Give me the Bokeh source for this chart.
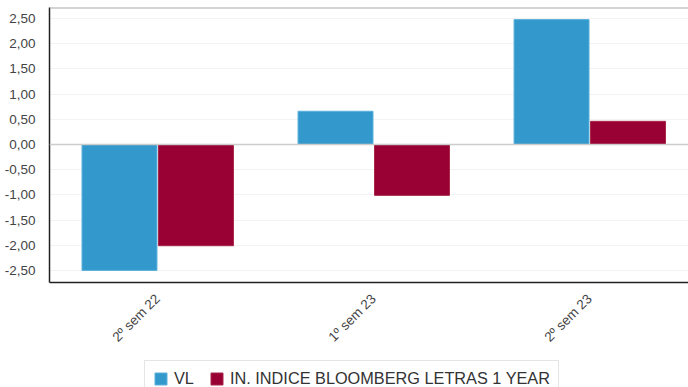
from bokeh.plotting import figure
from bokeh.layouts import column
from bokeh.models import (ColumnDataSource, Range1d, FixedTicker, CustomJSTickFormatter,
                          Span, Legend, LegendItem)
from bokeh.transform import dodge
from bokeh.embed import file_html
from bokeh.resources import INLINE

categories = ["2º sem 22", "1º sem 23", "2º sem 23"]
vl = [-2.50, 0.66, 2.48]
indice = [-2.01, -1.01, 0.46]
series_names = ["VL", "IN. INDICE BLOOMBERG LETRAS 1 YEAR"]
y_ticks = [-2.5, -2.0, -1.5, -1.0, -0.5, 0.0, 0.5, 1.0, 1.5, 2.0, 2.5]

BLUE = "#3399cc"
RED = "#990033"
FONT = "Liberation Sans"

pos = [i + 0.5 for i in range(len(categories))]
src = ColumnDataSource(dict(x=pos, vl=vl, ind=indice, cat=categories))

Y_MIN, Y_MAX = -2.74, 2.72
p = figure(frame_width=639, frame_height=275, output_backend="svg", toolbar_location=None,
           x_range=Range1d(0, 2.958), y_range=Range1d(Y_MIN, Y_MAX),
           min_border_left=49, min_border_top=7, min_border_right=0, min_border_bottom=76)
p.outline_line_color = None
p.background_fill_color = "white"

bar_style = dict(width=0.347, bottom=0, line_width=1)
blue_style = dict(fill_color=BLUE, line_color="#5ab0dc")
red_style = dict(fill_color=RED, line_color="#a8264a")
p.vbar(x=dodge("x", -0.176), top="vl", source=src, **blue_style, **bar_style)
p.vbar(x=dodge("x", 0.178), top="ind", source=src, **red_style, **bar_style)

p.add_layout(Span(location=0, dimension="width", line_color="#cccccc", line_width=1.5))
p.add_layout(Span(location=Y_MAX, dimension="width", line_color="#aaaaaa", line_width=2))

p.xgrid.visible = False
p.ygrid.ticker = FixedTicker(ticks=y_ticks)
p.ygrid.grid_line_color = "#f3f3f3"

p.yaxis.ticker = FixedTicker(ticks=y_ticks)
p.yaxis.formatter = CustomJSTickFormatter(code="return tick.toFixed(2).replace('.', ',');")
p.xaxis.ticker = FixedTicker(ticks=pos)
p.xaxis.major_label_overrides = {x: c for x, c in zip(pos, categories)}
p.xaxis.major_label_orientation = 0.785398

for ax in (p.xaxis[0], p.yaxis[0]):
    ax.axis_line_color = "#222222"
    ax.axis_line_width = 1.5
    ax.major_tick_line_color = None
    ax.minor_tick_line_color = None
    ax.major_label_text_font = FONT
    ax.major_label_text_font_size = "13.5px"
    ax.major_label_text_color = "#444444"
p.yaxis.major_label_standoff = 8
p.xaxis.major_label_standoff = 8

# legend strip below the chart (its bars lie outside its view, only the legend shows)
lg = figure(width=688, height=29, output_backend="svg", toolbar_location=None,
            x_range=Range1d(0, 1), y_range=Range1d(100, 101),
            min_border_left=0, min_border_top=0, min_border_right=0, min_border_bottom=0)
lg.axis.visible = False
lg.grid.visible = False
lg.outline_line_color = None
e1 = lg.vbar(x="x", top="vl", source=src, **blue_style, **bar_style)
e2 = lg.vbar(x="x", top="ind", source=src, **red_style, **bar_style)
legend = Legend(items=[LegendItem(label=series_names[0], renderers=[e1]),
                       LegendItem(label=series_names[1], renderers=[e2])],
                orientation="horizontal", location=(95, -10),
                label_text_font=FONT, label_text_font_size="16.3px", label_text_color="#333333",
                glyph_width=15, glyph_height=15, spacing=15, label_standoff=6,
                padding=8, margin=0, border_line_color="#cccccc", border_line_width=1,
                label_height=16)
lg.add_layout(legend, "center")

layout = column(p, lg, spacing=0)
open("out.html", "w").write(file_html(layout, INLINE))
